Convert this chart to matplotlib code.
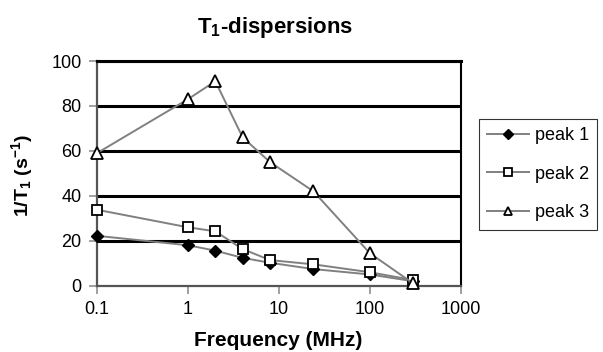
import matplotlib
matplotlib.use("Agg")
import matplotlib.pyplot as plt

plt.rcParams['font.family'] = ['Liberation Sans', 'DejaVu Sans']
plt.rcParams['mathtext.fontset'] = 'custom'
plt.rcParams['mathtext.rm'] = 'Liberation Sans'
plt.rcParams['mathtext.it'] = 'Liberation Sans:italic'
plt.rcParams['mathtext.bf'] = 'Liberation Sans:bold'

freq = [0.1, 1, 2, 4, 8, 24, 100, 300]
peak1 = [22.2, 18.0, 15.6, 12.4, 10.2, 7.4, 5.0, 2.0]
peak2 = [33.8, 26.0, 24.2, 16.3, 11.4, 9.5, 6.0, 2.5]
peak3 = [59.0, 83.0, 91.0, 66.0, 55.0, 42.0, 14.5, 1.0]
series_names = ['peak 1', 'peak 2', 'peak 3']
xticks = [0.1, 1, 10, 100, 1000]
xticklabels = ['0.1', '1', '10', '100', '1000']
yticks = [0, 20, 40, 60, 80, 100]

fig = plt.figure(figsize=(6.03, 3.52), dpi=100)
ax = fig.add_axes([97/603, 1-285.7/352, (460.7-97)/603, (285.7-61)/352])

ax.set_xscale('log')
ax.set_xlim(0.1, 1000)
ax.set_ylim(0, 100)

for v in yticks[1:]:
    ax.axhline(v, color='black', lw=2.2, zorder=1)

lc = '#808080'
ax.plot(freq, peak1, color=lc, lw=1.4, marker='D', ms=6.5, mfc='black', mec='black', label=series_names[0], zorder=3, clip_on=False)
ax.plot(freq, peak2, color=lc, lw=1.4, marker='s', ms=7.5, mfc='white', mec='black', mew=1.3, label=series_names[1], zorder=3, clip_on=False)
ax.plot(freq, peak3, color=lc, lw=1.4, marker='^', ms=8.5, mfc='white', mec='black', mew=1.3, label=series_names[2], zorder=3, clip_on=False)

ax.set_xticks(xticks)
ax.set_xticklabels(xticklabels)
ax.xaxis.set_minor_locator(matplotlib.ticker.NullLocator())
ax.set_yticks(yticks)
ax.tick_params(axis='both', labelsize=13, length=6, width=1.2, color='#909090', direction='out', pad=5)

for s in ['left', 'bottom']:
    ax.spines[s].set_color('#555555')
    ax.spines[s].set_linewidth(1.6)
ax.spines['right'].set_color('black')
ax.spines['right'].set_linewidth(1.5)
ax.spines['top'].set_color('black')
ax.spines['top'].set_linewidth(2.2)

fig.text(275/603, 1-27/352, r'T$_\mathbf{1}$-dispersions', ha='center', va='center', fontsize=16, fontweight='bold')
fig.text(278/603, 1-340/352, 'Frequency (MHz)', ha='center', va='center', fontsize=15, fontweight='bold')
fig.text(22/603, 1-176/352, r'1/T$_\mathbf{1}$ (s$^\mathbf{-1}$)', ha='center', va='center', rotation=90, fontsize=14, fontweight='bold')

leg = ax.legend(loc='upper left', bbox_to_anchor=(479/603, 1-119/352), bbox_transform=fig.transFigure,
                frameon=True, fancybox=False, fontsize=13, handlelength=2.3, borderpad=0.45,
                labelspacing=1.2, handletextpad=0.35, borderaxespad=0, markerscale=0.75)
leg.get_frame().set_edgecolor('black')
leg.get_frame().set_linewidth(0.8)

fig.savefig('out.png', dpi=100)
